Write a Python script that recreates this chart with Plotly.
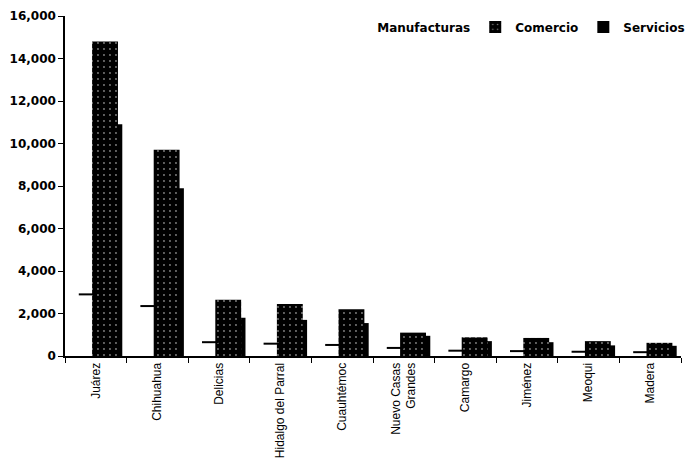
import plotly.graph_objects as go

categorias = ["Juárez", "Chihuahua", "Delicias", "Hidalgo del Parral", "Cuauhtémoc",
              "Nuevo Casas<br>Grandes", "Camargo", "Jiménez", "Meoqui", "Madera"]
manufacturas = [2900, 2350, 650, 580, 520, 380, 250, 230, 200, 180]
comercio = [14800, 9700, 2650, 2450, 2200, 1100, 880, 850, 700, 620]
servicios = [10900, 7900, 1800, 1700, 1550, 950, 700, 650, 500, 480]

y_ticks = [0, 2000, 4000, 6000, 8000, 10000, 12000, 14000, 16000]

fig = go.Figure()

fig.add_trace(go.Bar(
    x=categorias, y=servicios, name="Servicios", legendrank=3,
    offset=0.06, width=0.37,
    marker=dict(color="black", line=dict(width=0)),
))
fig.add_trace(go.Bar(
    x=categorias, y=comercio, name="Comercio", legendrank=2,
    offset=-0.06, width=0.42,
    marker=dict(color="black", line=dict(width=0),
                pattern=dict(shape=".", bgcolor="black", fgcolor="white",
                             size=6, solidity=0.08)),
))
fig.add_trace(go.Bar(
    x=categorias, y=manufacturas, name="Manufacturas", legendrank=1,
    offset=-0.23, width=0.18,
    marker=dict(color="rgba(255,255,255,0)", line=dict(width=0)),
))
fig.add_trace(go.Scatter(
    x=categorias, y=manufacturas, mode="markers", showlegend=False,
    marker=dict(symbol="line-ew", size=12, line=dict(color="black", width=2)),
    xaxis="x2", hoverinfo="skip",
))

fig.update_layout(
    width=699, height=465,
    margin=dict(l=65, r=9, t=16, b=109),
    paper_bgcolor="white", plot_bgcolor="white",
    barmode="overlay",
    font=dict(family="Liberation Sans, Arial, sans-serif", color="black"),
    showlegend=True,
    legend=dict(orientation="h", x=1.015, xanchor="right", y=0.968, yanchor="middle",
                font=dict(size=12, family="DejaVu Sans", weight="bold"),
                itemwidth=30, tracegroupgap=0, bgcolor="rgba(0,0,0,0)"),
    xaxis=dict(
        type="category", showline=True, linecolor="black", linewidth=2,
        ticks="outside", tickson="boundaries", ticklen=5, tickcolor="black",
        tickangle=-90, tickfont=dict(size=12), showgrid=False,
        range=[-0.5, 9.5], automargin=False,
    ),
    xaxis2=dict(
        type="category", overlaying="x", visible=False,
        range=[-0.5 + 0.14, 9.5 + 0.14],
        categoryarray=categorias, categoryorder="array",
    ),
    yaxis=dict(
        range=[0, 16000], tickvals=y_ticks, tickformat=",",
        showline=True, linecolor="black", linewidth=1.5,
        ticks="outside", ticklen=5, tickcolor="black", showgrid=False,
        tickfont=dict(size=12, family="DejaVu Sans", weight="bold"),
        zeroline=False, automargin=False,
    ),
)

fig.write_html("out.html", config={"displayModeBar": False},
               post_script="document.body.style.margin='0';")
